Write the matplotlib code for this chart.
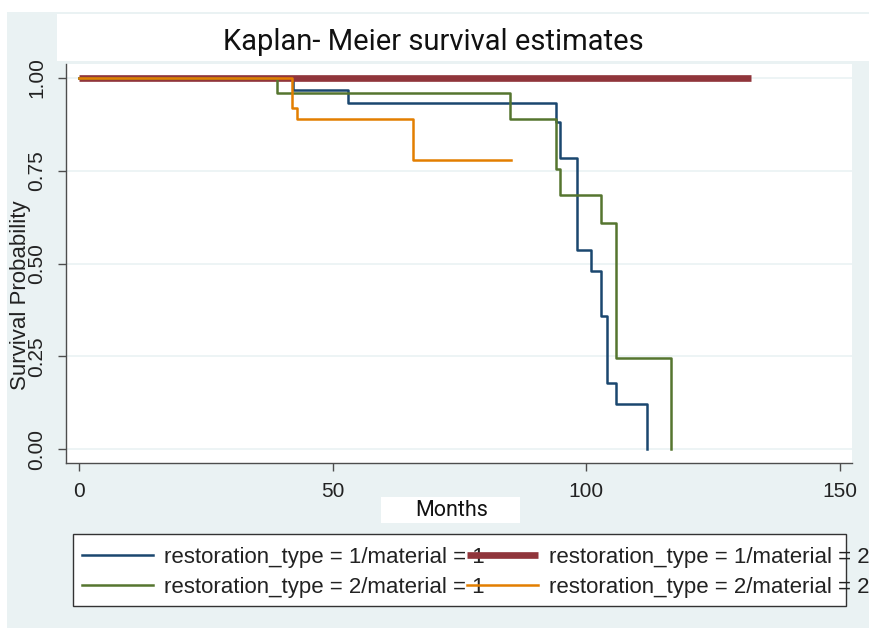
import matplotlib
matplotlib.use('Agg')
import matplotlib.pyplot as plt
from matplotlib.patches import Rectangle

plt.rcParams['font.family'] = ['Liberation Sans', 'DejaVu Sans']

# Kaplan-Meier curves (months, survival)
t_rt1_m1 = [0, 42.2, 53.0, 94.0, 94.8, 98.1, 100.9, 102.9, 104.0, 105.9, 111.9]
s_rt1_m1 = [1.0, 0.968, 0.932, 0.882, 0.784, 0.536, 0.480, 0.359, 0.177, 0.121, 0.0]

t_rt1_m2 = [0, 132.4]
s_rt1_m2 = [1.0, 1.0]

t_rt2_m1 = [0, 39.0, 85.0, 94.0, 94.8, 102.9, 105.8, 116.8]
s_rt2_m1 = [1.0, 0.959, 0.889, 0.754, 0.685, 0.608, 0.244, 0.0]

t_rt2_m2 = [0, 42.0, 42.9, 65.9, 85.1]
s_rt2_m2 = [1.0, 0.918, 0.889, 0.778, 0.778]

labels = ['restoration_type = 1/material = 1',
          'restoration_type = 1/material = 2',
          'restoration_type = 2/material = 1',
          'restoration_type = 2/material = 2']
xticks = [0, 50, 100, 150]
yticks = [0, 0.25, 0.5, 0.75, 1.0]
ytick_labels = ['0.00', '0.25', '0.50', '0.75', '1.00']

bg = '#eaf2f3'
axis_col = '#4d4d4d'
W, H = 870, 630

fig = plt.figure(figsize=(8.7, 6.3), dpi=100, facecolor='white')

def box(x0, y0, x1, y1, **kw):
    # rectangle in pixel coords (top-left origin)
    r = Rectangle((x0 / W, 1 - y1 / H), (x1 - x0) / W, (y1 - y0) / H,
                  transform=fig.transFigure, **kw)
    fig.patches.append(r)

box(7, 12, 870, 628, facecolor=bg, edgecolor='none', zorder=0)
box(57, 14, 870, 61, facecolor='white', edgecolor='none', zorder=1)
box(381, 497, 520, 523, facecolor='white', edgecolor='none', zorder=1)
box(73, 534, 846, 606, facecolor='white', edgecolor='#333333', linewidth=1.0, zorder=1)

ax = fig.add_axes([66 / W, 1 - 463 / H, 786 / W, 399 / H])
ax.set_facecolor('white')
ax.set_zorder(2)

l1, = ax.step(t_rt1_m1, s_rt1_m1, where='post', color='#1a476f', lw=1.8)
l2, = ax.step(t_rt1_m2, s_rt1_m2, where='post', color='#90353b', lw=4.8, solid_capstyle='butt')
l3, = ax.step(t_rt2_m1, s_rt2_m1, where='post', color='#55752f', lw=1.8)
l4, = ax.step(t_rt2_m2, s_rt2_m2, where='post', color='#e37e00', lw=1.8)

ax.set_xlim(-2.56, 152.4)
ax.set_ylim(-0.0377, 1.0377)
ax.set_xticks(xticks)
ax.set_yticks(yticks)
ax.set_yticklabels(ytick_labels, rotation=90, va='center')
ax.grid(axis='y', color=bg, lw=1.2)
ax.set_axisbelow(True)
for s in ['top', 'right']:
    ax.spines[s].set_visible(False)
for s in ['left', 'bottom']:
    ax.spines[s].set_color(axis_col)
    ax.spines[s].set_linewidth(1.0)
ax.tick_params(length=6, width=1.0, color=axis_col, labelsize=15, pad=8, labelcolor='#222222')

ax.set_ylabel('Survival Probability', fontsize=16, color='#222222', va='center', ha='center')
ax.yaxis.set_label_coords(-0.0573, 0.421)

fig.text(452 / W, 1 - 510 / H, 'Months', fontsize=15.5, family='Roboto',
         ha='center', va='center', color='#111111', zorder=3)
fig.text(433 / W, 1 - 42 / H, 'Kaplan- Meier survival estimates', fontsize=21,
         family='Roboto', ha='center', va='center', color='#111111', zorder=3)

leg = fig.legend([l1, l3, l2, l4], [labels[0], labels[2], labels[1], labels[3]],
                 ncol=2, loc='upper left', bbox_to_anchor=(82 / W, 1 - 547 / H),
                 frameon=False, fontsize=16, borderpad=0, borderaxespad=0,
                 handlelength=3.2, handletextpad=0.5, columnspacing=-0.8,
                 labelspacing=0.41)
leg.set_zorder(4)
for t in leg.get_texts():
    t.set_color('#222222')

fig.savefig('out.png', dpi=100, facecolor='white')
